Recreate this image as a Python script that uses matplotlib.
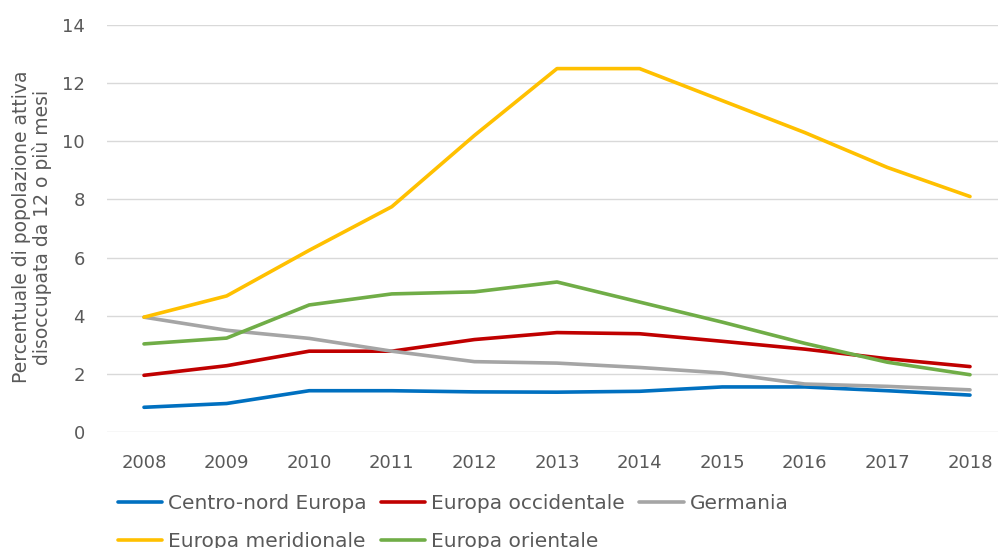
import matplotlib
matplotlib.use("Agg")
import matplotlib.pyplot as plt

plt.rcParams['font.family'] = ['DejaVu Sans']

anni = [2008, 2009, 2010, 2011, 2012, 2013, 2014, 2015, 2016, 2017, 2018]
centro_nord = [0.85, 0.98, 1.42, 1.42, 1.38, 1.37, 1.40, 1.55, 1.55, 1.42, 1.27]
occidentale = [1.95, 2.28, 2.78, 2.78, 3.18, 3.42, 3.38, 3.12, 2.85, 2.52, 2.25]
germania = [3.95, 3.50, 3.22, 2.78, 2.42, 2.37, 2.22, 2.03, 1.65, 1.57, 1.45]
meridionale = [3.95, 4.68, 6.25, 7.75, 10.2, 12.5, 12.5, 11.4, 10.3, 9.1, 8.1]
orientale = [3.03, 3.23, 4.37, 4.75, 4.82, 5.16, 4.47, 3.78, 3.05, 2.40, 1.97]

testo = '#595959'

fig = plt.figure(figsize=(9.99, 5.48), dpi=100)
ax = fig.add_axes([107/999, 1 - 432/548, (998 - 107)/999, (432 - 25)/548])

x = range(len(anni))
serie = [
    (centro_nord, 'Centro-nord Europa', '#0070C0'),
    (occidentale, 'Europa occidentale', '#C00000'),
    (germania, 'Germania', '#A5A5A5'),
    (meridionale, 'Europa meridionale', '#FFC000'),
    (orientale, 'Europa orientale', '#70AD47'),
]
linee = {}
for valori, nome, colore in serie:
    l, = ax.plot(x, valori, color=colore, lw=2.6, label=nome, solid_capstyle='round')
    linee[nome] = l

passo = 82.6
ax.set_xlim(-37/passo, -37/passo + 891/passo)
ax.set_ylim(0, 14)
ax.set_yticks(range(0, 15, 2))
ax.set_xticks(list(x))
ax.set_xticklabels([str(a) for a in anni])
ax.grid(axis='y', color='#D9D9D9', lw=1)
ax.set_axisbelow(True)
for s in ax.spines.values():
    s.set_visible(False)
ax.tick_params(length=0, labelsize=13, colors=testo)
ax.tick_params(axis='x', pad=16)
ax.tick_params(axis='y', pad=16)

fig.text(32/999, 1 - 227/548, 'Percentuale di popolazione attiva\ndisoccupata da 12 o più mesi',
         rotation=90, ha='center', va='center', fontsize=13.5, color=testo, linespacing=1.1)

ordine = ['Centro-nord Europa', 'Europa meridionale', 'Europa occidentale',
          'Europa orientale', 'Germania']
leg = fig.legend([linee[n] for n in ordine], ordine, ncol=3, loc='upper left',
                 bbox_to_anchor=(118/999, 1 - 494/548), frameon=False,
                 fontsize=14.5, handlelength=2.2, handletextpad=0.3,
                 columnspacing=0.7, labelspacing=0.95, borderaxespad=0,
                 borderpad=0)
for t in leg.get_texts():
    t.set_color(testo)

fig.savefig('out.png', dpi=100)
